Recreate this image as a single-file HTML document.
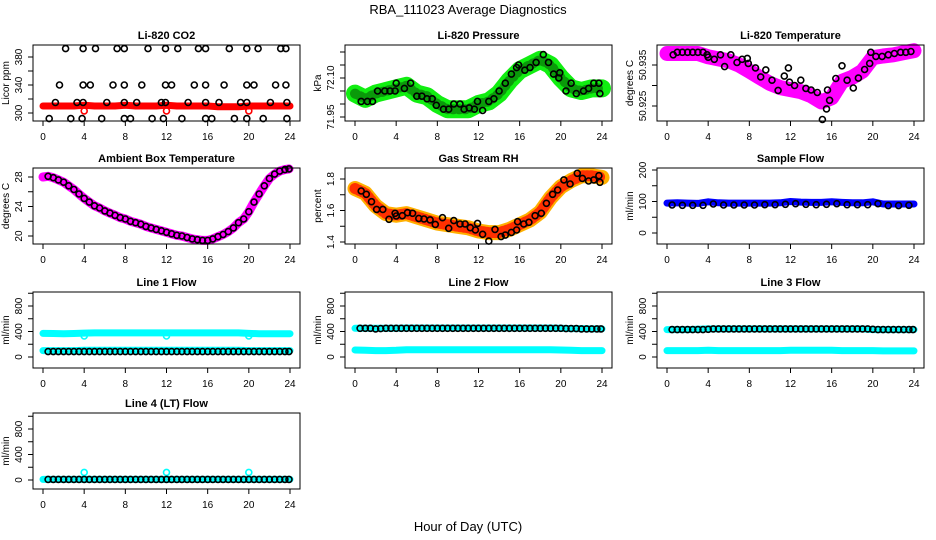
<!DOCTYPE html>
<html><head><meta charset="utf-8"><style>
html,body{margin:0;padding:0;background:#fff}
svg{display:block;font-family:"Liberation Sans",sans-serif}
</style></head><body>
<svg id="chart" width="936" height="540" viewBox="0 0 936 540">
<rect width="936" height="540" fill="#fff"/>
<text x="468" y="14" text-anchor="middle" font-size="13">RBA_111023  Average Diagnostics</text>
<text x="468" y="531" text-anchor="middle" font-size="13">Hour of Day (UTC)</text>
</svg>
<script>
const xTicks=[0,4,8,12,16,20,24];
const H48=[0.5,1,1.5,2,2.5,3,3.5,4,4.5,5,5.5,6,6.5,7,7.5,8,8.5,9,9.5,10,10.5,11,11.5,12,12.5,13,13.5,14,14.5,15,15.5,16,16.5,17,17.5,18,18.5,19,19.5,20,20.5,21,21.5,22,22.5,23,23.5,23.9];
const H25=[0,1,2,3,4,5,6,7,8,9,10,11,12,13,14,15,16,17,18,19,20,21,22,23,24];
const H24=[0.5,1.5,2.5,3.5,4.5,5.5,6.5,7.5,8.5,9.5,10.5,11.5,12.5,13.5,14.5,15.5,16.5,17.5,18.5,19.5,20.5,21.5,22.5,23.5];
// CO2
const co2H=[2.2,3.9,5.1,7.2,7.9,10.2,11.9,13.1,15.1,15.8,18.1,19.8,20.9,23.1,23.6, 1.6,3.9,4.6,6.8,7.9,9.6,11.9,12.5,14.7,15.8,17.6,19.8,20.5,22.6,23.6, 1.2,3.3,3.9,6.2,7.9,9.1,11.5,11.9,14.1,15.8,17.1,19.2,19.8,22.1,23.7, 0.6,2.7,3.8,5.7,7.9,8.5,10.6,11.7,13.5,15.8,16.4,18.6,19.8,21.4,23.7];
const co2V=[392,392,392,392,392,392,392,392,392,392,392,392,392,392,392, 340,340,340,340,340,340,340,340,340,340,340,340,340,340,340, 315,315,315,315,315,315,315,315,315,315,315,315,315,315,315, 292,292,292,292,292,292,292,292,292,292,292,292,292,292,292];
const co2Band=[310,310,310,310,311,310,310,310,311,310,310,310,311,310,310,310,310,309,309,309,310,310,310,310,310];
const co2SpikeH=[4,12,20];
const co2SpikeV=[303,303,303];
// Pressure
const pH=[0.6,1.2,1.7,2.2,2.9,3.4,3.9,4.0,4.8,5.4,6.0,6.5,7.0,7.5,7.9,8.6,9.1,9.6,10.2,10.6,11.1,11.6,11.9,12.4,13.0,13.5,14.0,14.6,15.2,15.7,15.9,16.5,17.0,17.6,18.3,18.8,19.3,19.8,19.9,20.5,21.0,21.5,22.2,22.7,23.2,23.7,23.8];
const pV=[72.01,72.01,72.01,72.05,72.05,72.05,72.05,72.08,72.06,72.08,72.03,72.03,72.02,72.02,71.995,71.98,71.98,72.00,72.00,71.98,71.985,71.98,72.01,71.975,72.01,72.02,72.05,72.08,72.115,72.14,72.15,72.13,72.14,72.16,72.19,72.16,72.115,72.10,72.12,72.05,72.08,72.04,72.05,72.06,72.08,72.08,72.04];
const pBand=[72.04,72.02,72.04,72.05,72.06,72.07,72.04,72.03,72.00,71.98,71.98,71.98,72.00,72.01,72.04,72.09,72.13,72.15,72.17,72.15,72.10,72.06,72.05,72.06,72.06];
// Temperature
const tH=[0.6,1,1.5,2,2.5,3,3.5,3.9,4,4.6,5.2,5.6,6.2,6.8,7.3,7.8,7.9,8.6,9.1,9.6,10.2,10.8,11.4,11.8,11.9,12.4,13,13.5,14,14.6,15.1,15.5,15.6,15.8,16.4,17,17.5,18.1,18.6,19.2,19.7,19.8,20.3,20.9,21.5,22.1,22.7,23.2,23.7];
const tV=[50.9375,50.9381,50.9381,50.9381,50.9381,50.9381,50.9381,50.9375,50.9369,50.9364,50.9375,50.9346,50.9375,50.9356,50.9364,50.9366,50.9354,50.9343,50.9321,50.9338,50.9313,50.9288,50.9323,50.9343,50.9308,50.9300,50.9313,50.9293,50.9289,50.9283,50.9217,50.9243,50.9289,50.9264,50.9317,50.9348,50.9313,50.9294,50.9318,50.9339,50.9354,50.9381,50.9371,50.9371,50.9375,50.9378,50.9381,50.9381,50.9383];
const tBand=[50.9378,50.9378,50.9378,50.9378,50.9370,50.9365,50.9360,50.9350,50.9335,50.9320,50.9305,50.9295,50.9290,50.9285,50.9275,50.9260,50.9270,50.9310,50.9320,50.9335,50.9368,50.9372,50.9375,50.9380,50.9385];
// Ambient
const ambH=[0,0.5,1,1.5,2,2.5,3,3.5,4,4.5,5,5.5,6,6.5,7,7.5,8,8.5,9,9.5,10,10.5,11,11.5,12,12.5,13,13.5,14,14.5,15,15.5,16,16.5,17,17.5,18,18.5,19,19.5,20,20.5,21,21.5,22,22.5,23,23.5,23.9];
const ambV=[28.0,28.1,27.9,27.6,27.3,26.8,26.3,25.7,25.1,24.6,24.1,23.8,23.4,23.1,22.8,22.5,22.3,22.0,21.8,21.6,21.3,21.1,20.9,20.7,20.5,20.3,20.1,20.0,19.8,19.6,19.5,19.4,19.4,19.6,19.9,20.2,20.6,21.1,21.8,22.3,23.3,24.6,25.7,26.8,27.8,28.4,28.8,29.0,29.1];
// RH
const rH=[0.6,1.1,1.6,2.1,2.7,3.3,3.9,4,4.6,5.1,5.6,6.2,6.7,7.3,7.8,8.5,9.1,9.6,10.2,10.7,11.2,11.7,11.9,12.4,13,13.6,14.2,14.6,15.2,15.7,15.8,16.4,16.9,17.5,18.1,18.6,19.2,19.7,20.3,20.9,21.6,22.1,22.7,23.2,23.7,23.8];
const rV=[1.724,1.703,1.656,1.607,1.607,1.544,1.582,1.565,1.567,1.586,1.582,1.550,1.546,1.540,1.512,1.554,1.487,1.536,1.514,1.514,1.491,1.476,1.518,1.449,1.406,1.480,1.434,1.444,1.461,1.476,1.529,1.514,1.525,1.567,1.582,1.646,1.703,1.730,1.794,1.768,1.836,1.804,1.787,1.794,1.821,1.779];
const rBand=[1.74,1.71,1.63,1.58,1.57,1.58,1.56,1.54,1.52,1.51,1.50,1.49,1.47,1.46,1.46,1.48,1.51,1.54,1.59,1.68,1.75,1.79,1.82,1.82,1.81];
// Sample flow
const sfBand=[95,96,95,94,99,96,95,95,95,95,95,96,100,98,97,97,99,97,96,96,99,92,92,92,92];
const sfV=[89,88,88,88,92,89,89,89,89,90,90,91,93,91,90,91,93,90,90,90,93,87,87,88];
// Line flows
const l1Black=[85,85,85,85,85,85,85,85,85,85,85,85,85,85,85,85,85,85,85,85,85,85,85,85,85,85,85,85,85,85,85,85,85,85,85,85,85,85,85,85,85,85,85,85,85,85,85,85];
const l1Upper=[370,368,365,368,375,378,378,378,378,378,378,378,378,378,378,378,378,378,378,378,370,365,365,365,365];
const l1Lower=[100,100,100,100,105,105,105,105,105,105,105,105,105,105,105,105,105,105,105,105,100,100,100,100,100];
const l1SpikeV=[330,330,330];
const l2Black=[450,450,450,440,445,450,450,450,450,450,450,450,450,450,450,450,450,450,450,450,450,450,450,450,450,450,450,450,450,450,450,450,450,450,450,450,450,450,450,450,445,445,445,440,440,440,440,440];
const l2Upper=[450,450,450,450,450,455,455,455,455,455,455,455,455,455,455,455,455,455,455,455,450,445,445,440,440];
const l2Lower=[110,105,100,100,105,115,115,115,115,115,115,115,115,115,115,115,115,115,115,115,110,105,100,100,100];
const l3Black=[430,430,430,430,430,430,430,435,440,440,440,440,440,440,440,440,440,440,440,440,440,440,440,440,440,440,440,440,440,440,440,440,440,440,440,440,440,440,440,435,430,430,430,430,430,430,430,430];
const l3Upper=[430,430,430,435,440,440,440,440,440,440,440,440,440,440,440,440,440,440,440,440,430,430,430,430,430];
const l3Lower=[100,100,100,100,105,100,100,100,100,100,100,100,105,105,105,105,105,100,100,100,100,95,95,95,95];
const l4Black=[10,10,10,10,10,10,10,10,10,10,10,10,10,10,10,10,10,10,10,10,10,10,10,10,10,10,10,10,10,10,10,10,10,10,10,10,10,10,10,10,10,10,10,10,10,10,10,10];
const l4Band=[10,10,10,10,10,10,10,10,10,10,10,10,10,10,10,10,10,10,10,10,10,10,10,10,10];
const spikeH=[4,12,20];
const l4SpikeV=[120,120,120];
// y ticks
const co2Ticks=[300,320,340,360,380], co2Labels=["300","","340","","380"];
const pTicks=[71.95,72.00,72.05,72.10,72.15,72.20], pLabels=["71.95","","","72.10","",""];
const tTicks=[50.925,50.930,50.935], tLabels=["50.925","","50.935"];
const ambTicks=[20,22,24,26,28], ambLabels=["20","","24","","28"];
const rTicks=[1.4,1.5,1.6,1.7,1.8], rLabels=["1.4","","1.6","","1.8"];
const sfTicks=[0,50,100,150,200], sfLabels=["0","","100","","200"];
const flTicks=[0,200,400,600,800,1000], flLabels=["0","","400","","800",""];

const NS="http://www.w3.org/2000/svg";
const svg=document.getElementById('chart');
function mk(tag,attrs,parent){const e=document.createElementNS(NS,tag);for(const k in attrs)e.setAttribute(k,attrs[k]);(parent||svg).appendChild(e);return e;}
const colL=[33,345,657], rowT=[45,168,292,413], BW=267, BH=76;

function panel(name,title,col,row,yt,v0,p0,v1,p1,ticks,labels){
  const L=colL[col],T=rowT[row];
  const g=mk('g',{});
  
  
  const x=h=>L+10+h*(247/24);
  const y=v=>T+p0+(v-v0)*(p1-p0)/(v1-v0);
  const tt=mk('text',{x:L+BW/2,y:T-6,'text-anchor':'middle','font-size':11,'font-weight':'bold'},g);
  tt.textContent=title;
  
  
  const marks=mk('g',{},g);
  
  
  const box=mk('rect',{x:L,y:T,width:BW,height:BH,fill:'none',stroke:'#000','stroke-width':1},g);
  
  
  const xa=mk('g',{},g);
  
  
  mk('line',{x1:x(0),x2:x(24),y1:T+BH,y2:T+BH,stroke:'#000'},xa);
  xTicks.forEach(t=>{
    mk('line',{x1:x(t),x2:x(t),y1:T+BH,y2:T+BH+5,stroke:'#000'},xa);
    const tx=mk('text',{x:x(t),y:T+BH+19,'text-anchor':'middle','font-size':10},xa);
    tx.textContent=String(t);
  });
  const ya=mk('g',{},g);
  
  
  ticks.forEach((t,i)=>{
    const yy=y(t);
    mk('line',{x1:L-5,x2:L,y1:yy,y2:yy,stroke:'#000'},ya);
    if(labels[i]){
      const tx=mk('text',{x:L-11,y:yy,'text-anchor':'middle','font-size':10,transform:`rotate(-90 ${L-11} ${yy})`},ya);
      tx.textContent=labels[i];
    }
  });
  const yl=mk('text',{x:L-24,y:T+BH/2,'text-anchor':'middle','font-size':10,transform:`rotate(-90 ${L-24} ${T+BH/2})`},g);
  yl.textContent=yt;
  
  
  return {x,y,g:marks,name};
}
function band(P,hs,vs,color,w,label,dash){
  const pts=hs.map((h,i)=>P.x(h).toFixed(1)+','+P.y(vs[i]).toFixed(1)).join(' ');
  const a={points:pts,fill:'none',stroke:color,'stroke-width':w,'stroke-linejoin':'round','stroke-linecap':'round'};
  if(dash)a['stroke-dasharray']=dash;
  const e=mk('polyline',a,P.g);
  
  
}
function circles(P,hs,vs,color,r,label,sw){
  const g=mk('g',{},P.g);
  
  
  const n=Math.min(hs.length,vs.length);
  for(let i=0;i<n;i++){
    const c=mk('circle',{cx:P.x(hs[i]).toFixed(1),cy:P.y(vs[i]).toFixed(1),r:r,fill:'none',stroke:color,'stroke-width':sw||1.6},g);
    
    
  }
}
let P;
P=panel('co2','Li-820 CO2',0,0,'Licor ppm',300,68,380,12,co2Ticks,co2Labels);
band(P,H25,co2Band,'#ff0000',7,'raw-band');
circles(P,co2SpikeH,co2SpikeV,'#ff0000',3,'raw-outliers');
circles(P,co2H,co2V,'#000',3,'mean-points');

P=panel('pressure','Li-820 Pressure',1,0,'kPa',71.95,72,72.10,33,pTicks,pLabels);
band(P,H25,pBand,'#11ee11',18,'raw-band');
band(P,H25,pBand,'#0a9a0a',10,'raw-band-dots','1 5');
circles(P,pH,pV,'#000',3,'mean-points');

P=panel('temperature','Li-820 Temperature',2,0,'degrees C',50.935,20,50.925,61,tTicks,tLabels);
band(P,H25,tBand,'#ff00ff',15,'raw-band');
circles(P,tH,tV,'#000',3,'mean-points');

P=panel('ambient','Ambient Box Temperature',0,1,'degrees C',28,9,20,68,ambTicks,ambLabels);
band(P,ambH,ambV,'#ff00ff',9,'raw-band');
circles(P,ambH.slice(1),ambV.slice(1),'#000',3,'mean-points');

P=panel('rh','Gas Stream RH',1,1,'percent',1.8,11,1.4,74,rTicks,rLabels);
band(P,H25,rBand,'#ffb000',15,'raw-band');
band(P,H25,rBand,'#ff3000',11,'raw-band-dots','1 3');
circles(P,rH,rV,'#000',3,'mean-points');

P=panel('sample-flow','Sample Flow',2,1,'ml/min',0,65,200,2,sfTicks,sfLabels);
band(P,H25,sfBand,'#0000ff',7,'raw-band');
circles(P,H24,sfV,'#000',3,'mean-points');

P=panel('line1-flow','Line 1 Flow',0,2,'ml/min',0,65,800,14,flTicks,flLabels);
band(P,H25,l1Upper,'#00ffff',7,'upper-band');
band(P,H25,l1Lower,'#00ffff',7,'lower-band');
circles(P,spikeH,l1SpikeV,'#00ffff',3,'outliers');
circles(P,H48,l1Black,'#000',3,'mean-points');

P=panel('line2-flow','Line 2 Flow',1,2,'ml/min',0,65,800,14,flTicks,flLabels);
band(P,H25,l2Upper,'#00ffff',7,'upper-band');
band(P,H25,l2Lower,'#00ffff',7,'lower-band');
circles(P,H48,l2Black,'#000',3,'mean-points');

P=panel('line3-flow','Line 3 Flow',2,2,'ml/min',0,65,800,14,flTicks,flLabels);
band(P,H25,l3Upper,'#00ffff',7,'upper-band');
band(P,H25,l3Lower,'#00ffff',7,'lower-band');
circles(P,H48,l3Black,'#000',3,'mean-points');

P=panel('line4-flow','Line 4 (LT) Flow',0,3,'ml/min',0,67,800,16,flTicks,flLabels);
band(P,H25,l4Band,'#00ffff',7,'band');
circles(P,spikeH,l4SpikeV,'#00ffff',3,'outliers');
circles(P,H48,l4Black,'#000',3,'mean-points');
</script>
</body></html>
